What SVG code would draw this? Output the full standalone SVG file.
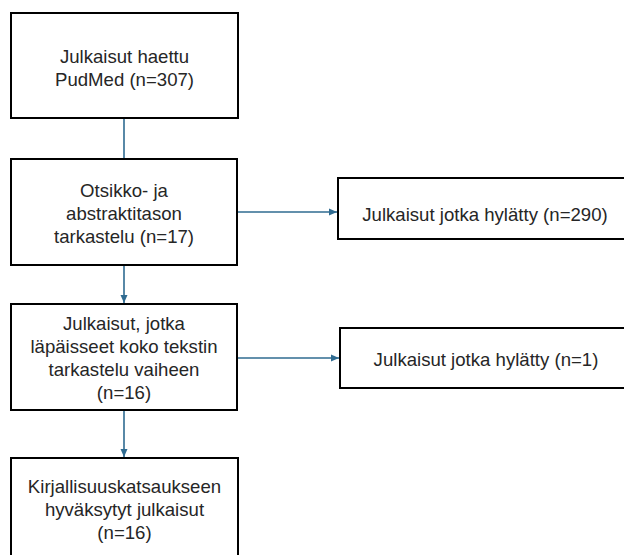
<svg xmlns="http://www.w3.org/2000/svg" width="624" height="555" viewBox="0 0 624 555">
<style>
.box{fill:#fff;stroke:#000;stroke-width:2}
.t{font-family:"Liberation Sans",Arial,sans-serif;font-size:18.6px;fill:#262626;text-anchor:middle}
.c{stroke:#2f6b91;stroke-width:1.6;fill:none}
</style>
<defs>
<marker id="ah" viewBox="0 0 8 8" refX="8" refY="4" markerWidth="8" markerHeight="8" markerUnits="userSpaceOnUse" orient="auto">
<path d="M0,0.5 L8,4 L0,7.5 Z" fill="#2f6b91"/>
</marker>
</defs>
<rect width="624" height="555" fill="#fff"/>
<g id="connectors">
<line class="c" x1="124" y1="118" x2="124" y2="159"/>
<line class="c" x1="237" y1="212" x2="337" y2="212" marker-end="url(#ah)"/>
<line class="c" x1="124" y1="265" x2="124" y2="303" marker-end="url(#ah)"/>
<line class="c" x1="237" y1="358" x2="339" y2="358" marker-end="url(#ah)"/>
<line class="c" x1="124" y1="410" x2="124" y2="457" marker-end="url(#ah)"/>
</g>
<g id="n1">
<rect class="box" x="11" y="13" width="227" height="105"/>
<text class="t" x="124.5" y="63">Julkaisut haettu</text>
<text class="t" x="124.5" y="86">PudMed (n=307)</text>
</g>
<g id="n2">
<rect class="box" x="11" y="159" width="226" height="106"/>
<text class="t" x="124" y="197">Otsikko- ja</text>
<text class="t" x="124" y="220">abstraktitason</text>
<text class="t" x="124" y="243">tarkastelu (n=17)</text>
</g>
<g id="n3">
<rect class="box" x="338" y="178" width="294" height="61"/>
<text class="t" x="485" y="221">Julkaisut jotka hylätty (n=290)</text>
</g>
<g id="n4">
<rect class="box" x="11" y="304" width="226" height="106"/>
<text class="t" x="124" y="330">Julkaisut, jotka</text>
<text class="t" x="124" y="353">läpäisseet koko tekstin</text>
<text class="t" x="124" y="376">tarkastelu vaiheen</text>
<text class="t" x="124" y="399">(n=16)</text>
</g>
<g id="n5">
<rect class="box" x="340" y="328" width="292" height="60"/>
<text class="t" x="486" y="366">Julkaisut jotka hylätty (n=1)</text>
</g>
<g id="n6">
<rect class="box" x="11" y="458" width="227" height="110"/>
<text class="t" x="124.5" y="493">Kirjallisuuskatsaukseen</text>
<text class="t" x="124.5" y="516">hyväksytyt julkaisut</text>
<text class="t" x="124.5" y="539">(n=16)</text>
</g>
</svg>
